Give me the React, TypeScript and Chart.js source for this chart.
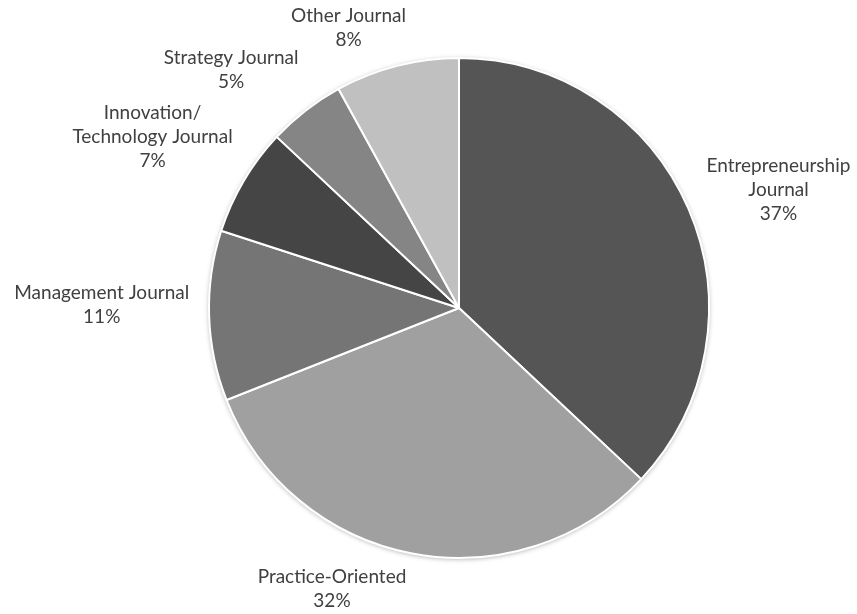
import React, { useEffect, useRef } from "react";
import { Chart, registerables } from "chart.js";

Chart.register(...registerables);

const categories: string[][] = [
  ["Entrepreneurship", "Journal"],
  ["Practice-Oriented"],
  ["Management Journal"],
  ["Innovation/", "Technology Journal"],
  ["Strategy Journal"],
  ["Other Journal"],
];
const shares: number[] = [37, 32, 11, 7, 5, 8];
const sliceColors: string[] = ["#555555", "#a0a0a0", "#757575", "#454545", "#858585", "#c0c0c0"];
// label nudges (style only) relative to the geometric outside placement
const labelNudges: [number, number][] = [
  [13, 0],
  [-64, 0],
  [-8, -12],
  [-12, -19],
  [-26, -12],
  [-31, -3],
];

const FONT = "19px Lato, 'Open Sans', sans-serif";
const LINE_H = 24;

const shadowPlugin = {
  id: "pieShadow",
  beforeDatasetsDraw(chart: any) {
    const meta = chart.getDatasetMeta(0);
    const arc = meta.data[0];
    if (!arc) return;
    const { x, y, outerRadius } = arc.getProps(["x", "y", "outerRadius"], true);
    const ctx = chart.ctx;
    ctx.save();
    ctx.shadowColor = "rgba(0,0,0,0.35)";
    ctx.shadowBlur = 5;
    ctx.shadowOffsetX = 0;
    ctx.shadowOffsetY = 1;
    ctx.fillStyle = "#ffffff";
    ctx.beginPath();
    ctx.arc(x, y, outerRadius, 0, Math.PI * 2);
    ctx.fill();
    ctx.restore();
  },
};

const labelPlugin = {
  id: "outsideLabels",
  afterDatasetsDraw(chart: any) {
    const ctx = chart.ctx;
    const meta = chart.getDatasetMeta(0);
    ctx.save();
    ctx.font = FONT;
    ctx.fillStyle = "#404040";
    ctx.textAlign = "center";
    ctx.textBaseline = "middle";
    meta.data.forEach((arc: any, i: number) => {
      const { x, y, startAngle, endAngle, outerRadius } = arc.getProps(
        ["x", "y", "startAngle", "endAngle", "outerRadius"],
        true
      );
      const mid = (startAngle + endAngle) / 2;
      const dx = Math.cos(mid);
      const dy = Math.sin(mid);
      const lines = [...categories[i], shares[i] + "%"];
      const w = Math.max(...lines.map((l) => ctx.measureText(l).width));
      const h = lines.length * LINE_H;
      const ax = x + dx * (outerRadius + 12);
      const ay = y + dy * (outerRadius + 12);
      const cx = ax + (dx * w) / 2 + labelNudges[i][0];
      const cy = ay + (dy * h) / 2 + labelNudges[i][1];
      lines.forEach((l, k) => {
        ctx.fillText(l, cx, cy - h / 2 + LINE_H / 2 + k * LINE_H);
      });
    });
    ctx.restore();
  },
};

export default function App() {
  const ref = useRef<HTMLCanvasElement | null>(null);
  useEffect(() => {
    if (!ref.current) return;
    const chart = new Chart(ref.current, {
      type: "pie",
      data: {
        labels: categories.map((c) => c.join(" ")),
        datasets: [
          {
            data: shares,
            backgroundColor: sliceColors,
            borderColor: "#ffffff",
            borderWidth: 2,
          },
        ],
      },
      options: {
        animation: false,
        responsive: false,
        maintainAspectRatio: false,
        layout: { padding: { left: 208, right: 147, top: 57, bottom: 55 } },
        plugins: {
          legend: { display: false },
          tooltip: { enabled: false },
          title: { display: false },
        },
      },
      plugins: [shadowPlugin, labelPlugin],
    });
    return () => chart.destroy();
  }, []);
  return (
    <div style={{ position: "fixed", left: 0, top: 0, width: 857, height: 614, background: "#ffffff" }}>
      <canvas ref={ref} width={857} height={614} style={{ width: 857, height: 614 }} />
    </div>
  );
}
